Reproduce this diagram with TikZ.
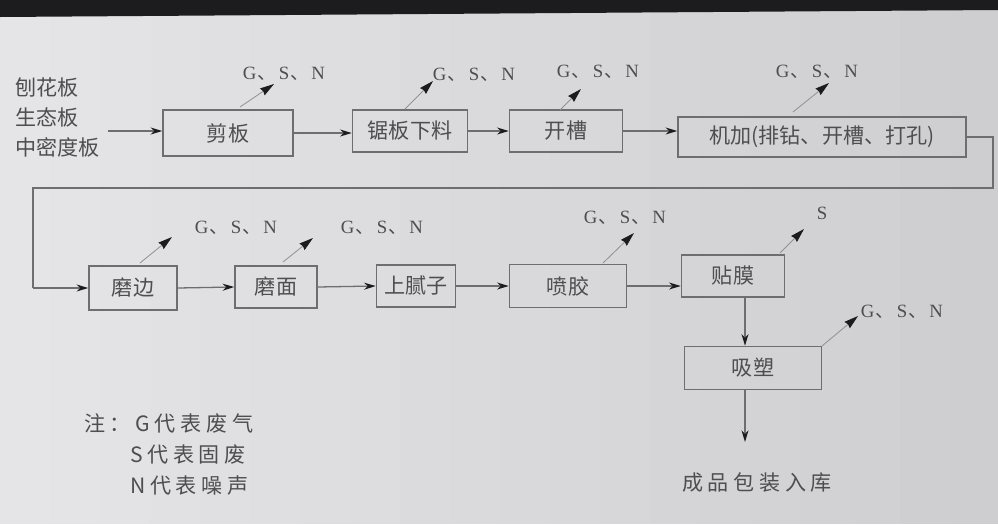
\documentclass[tikz,border=0pt]{standalone}
\usepackage{fontspec}
\setmainfont{Liberation Serif}
\newfontfamily\cjk{Noto Sans CJK SC}
\newfontfamily\cjkw[LetterSpace=22]{Noto Sans CJK SC}
\usetikzlibrary{arrows.meta}
\definecolor{bgL}{RGB}{229,229,232}
\definecolor{bgR}{RGB}{205,205,207}
\definecolor{ln}{RGB}{110,110,113}
\definecolor{tx}{RGB}{78,78,82}
\definecolor{hd}{RGB}{28,28,30}
\tikzset{
  box/.style={draw=ln, line width=1.3pt, inner sep=0pt, text=tx, font=\cjk\fontsize{18}{21}\selectfont},
  flow/.style={draw=ln, line width=1.1pt, -{Stealth[length=10pt,width=6pt,hd]}},
  emit/.style={draw=ln!75, line width=0.7pt, -{Stealth[length=12pt,width=7pt,inset=1pt,hd]}},
  lab/.style={text=tx, inner sep=0pt, font=\fontsize{16}{18}\selectfont},
  txt/.style={text=tx, inner sep=0pt, anchor=west, font=\cjk\fontsize{18}{21}\selectfont},
  note/.style={text=tx, inner sep=0pt, anchor=west, font=\cjkw\fontsize{18}{21}\selectfont},
}
\newcommand\glab{G\hspace{1pt}{\cjk 、}\hspace{2pt}S\hspace{1pt}{\cjk 、}\hspace{2pt}N}
\newcommand\pbox[6]{\node[box, minimum width=#4*0.03cm, minimum height=#5*0.03cm] (#1) at (#2,#3) {#6};}
\begin{document}
\begin{tikzpicture}[x=0.03cm, y=-0.03cm]
\useasboundingbox (0,0) rectangle (998,524);
\clip (0,0) rectangle (998,524);
\foreach \k in {0,...,19}{
  \pgfmathsetmacro\pc{100-\k*5}
  \fill[bgL!\pc!bgR] ({\k*50},0) rectangle ({\k*50+51},524);
}
\fill[hd] (0,0) -- (998,0) -- (998,10) -- (0,17) -- cycle;

% inputs
\node[txt] (i1) at (15,87) {刨花板};
\node[txt] (i2) at (15,117) {生态板};
\node[txt] (i3) at (15,147) {中密度板};
\coordinate (in0) at (108,131);

% row 1 boxes
\pbox{b1}{228}{133}{130}{46}{剪板}
\pbox{b2}{410}{131}{115}{42}{锯板下料}
\pbox{b3}{566}{131}{113}{42}{开槽}
\pbox{b4}{822}{137}{288}{40}{机加(排钻、开槽、打孔)}

% row 2 boxes
\pbox{b5}{133}{288}{88}{44}{磨边}
\pbox{b6}{276}{287}{82}{42}{磨面}
\pbox{b7}{416}{286}{79}{42}{上腻子}
\pbox{b8}{568}{286}{117}{43}{喷胶}
\pbox{b9}{733}{276}{103}{42}{贴膜}
\pbox{b10}{753}{368}{137}{43}{吸塑}

% flow
\draw[flow] (in0) -- (b1.west |- in0);
\draw[flow] (b1.east) -- (b2.west |- b1.east);
\draw[flow] (b2.east) -- (b3.west |- b2.east);
\draw[flow] (b3.east) -- (b4.west |- b3.east);
\coordinate (r1) at (993,137);
\coordinate (r2) at (993,188);
\coordinate (l1) at (33,188);
\coordinate (l2) at (33,288);
\draw[draw=ln, line width=1.1pt] (b4.east) -- (r1) -- (r2) -- (l1) -- (l2);
\draw[flow] (l2) -- (b5.west);
\draw[flow] (b5.east) -- (b6.west);
\draw[flow] (b6.east) -- (b7.west);
\draw[flow] (b7.east) -- (b8.west);
\draw[flow] (b8.east) -- (b9.west |- b8.east);
\coordinate (vx) at (745,0);
\draw[flow] (b9.south -| vx) -- (b10.north -| vx);
\coordinate (outp) at (745,442);
\draw[flow] (b10.south -| vx) -- (outp);
\node[note, anchor=center] (fin) at (757,482) {成品包装入库};

% emissions row 1
\node[lab] (g1) at (284,74) {\glab};
\coordinate (e1a) at (240,107); \coordinate (e1b) at (274,84);
\draw[emit] (e1a) -- (e1b);
\node[lab] (g2) at (474,75) {\glab};
\coordinate (e2a) at (405,109); \coordinate (e2b) at (433,81);
\draw[emit] (e2a) -- (e2b);
\node[lab] (g3) at (598,72) {\glab};
\coordinate (e3a) at (560,110); \coordinate (e3b) at (581,89);
\draw[emit] (e3a) -- (e3b);
\node[lab] (g4) at (817,72) {\glab};
\coordinate (e4a) at (793,112); \coordinate (e4b) at (829,83);
\draw[emit] (e4a) -- (e4b);

% emissions row 2
\node[lab] (g5) at (236,228) {\glab};
\coordinate (e5a) at (140,263); \coordinate (e5b) at (172,237);
\draw[emit] (e5a) -- (e5b);
\node[lab] (g6) at (382,228) {\glab};
\coordinate (e6a) at (283,262); \coordinate (e6b) at (313,238);
\draw[emit] (e6a) -- (e6b);
\node[lab] (g8) at (625,218) {\glab};
\coordinate (e8a) at (603,263); \coordinate (e8b) at (634,233);
\draw[emit] (e8a) -- (e8b);
\node[lab] (g9) at (822,213) {S};
\coordinate (e9a) at (780,253); \coordinate (e9b) at (804,229);
\draw[emit] (e9a) -- (e9b);
\node[lab] (g10) at (902,312) {\glab};
\coordinate (e10a) at (822,346); \coordinate (e10b) at (858,316);
\draw[emit] (e10a) -- (e10b);

% note
\node[note] (n1) at (84,423) {注：G代表废气};
\node[note] (n2) at (130,455) {S代表固废};
\node[note] (n3) at (130,486) {N代表噪声};
\end{tikzpicture}
\end{document}
